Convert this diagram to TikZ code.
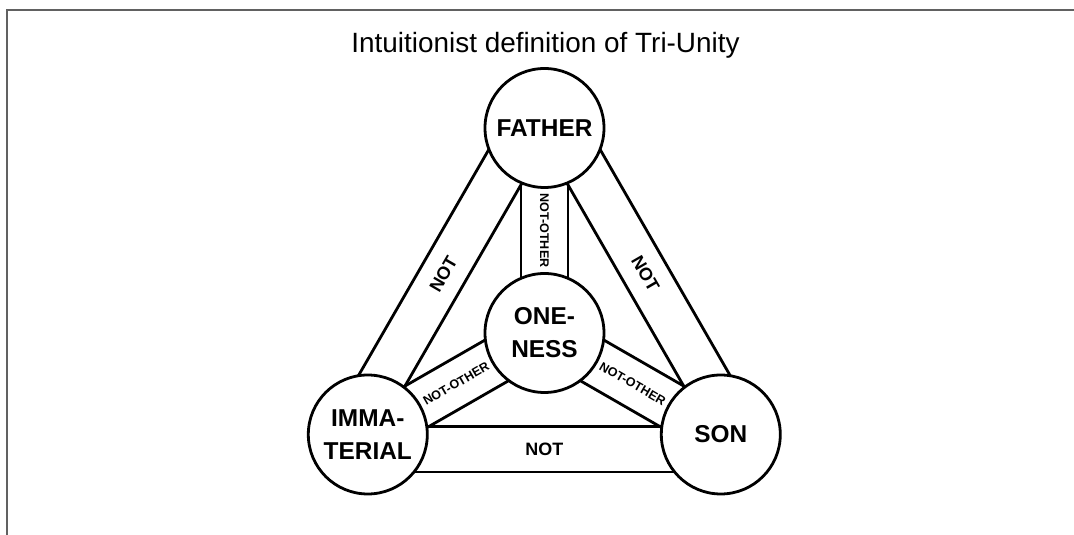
\documentclass[tikz,border=0pt]{standalone}
\usepackage{fontspec}
\setmainfont{Liberation Sans}
\usetikzlibrary{calc,backgrounds}
\begin{document}
\begin{tikzpicture}[x=1bp,y=1bp,
  circ/.style={circle, draw, line width=2.8bp, fill=white, minimum size=119bp, inner sep=0pt, align=center, font=\bfseries\fontsize{24.5}{33}\selectfont},
  band/.style={line width=2.8bp},
  notlbl/.style={font=\bfseries\fontsize{18}{18}\selectfont, inner sep=0pt},
  otherlbl/.style={font=\bfseries\fontsize{12.6}{12.6}\selectfont, inner sep=0pt},
  frameline/.style={line width=2bp, color=black!62}]
\useasboundingbox (0,0) rectangle (1074,535);
\coordinate (fb) at (7,0);
\coordinate (fc) at (7,525);
\coordinate (fr) at (1074,525);
\draw[frameline] (fb) -- (fc) -- (fr);
\node (title) at (545.5,482) [anchor=base, inner sep=0pt, font=\fontsize{28}{28}\selectfont] {Intuitionist definition of Tri-Unity};
\node[circ] (F) at (544.5,407) {FATHER};
\node[circ] (O) at (544.5,202) {ONE-\\NESS};
\node[circ] (I) at (367.8,100.5) {IMMA-\\TERIAL};
\node[circ] (S) at (720.8,100.5) {SON};
\begin{scope}[on background layer]
  \foreach \a/\b in {I/F, F/S, S/I} {
    \draw[band] ($(\a)!-8bp!90:(\b)$) -- ($(\b)!-8bp!-90:(\a)$);
    \draw[band] ($(\a)!37.5bp!90:(\b)$) -- ($(\b)!37.5bp!-90:(\a)$);
  }
  \foreach \b in {F,I,S} {
    \draw[band] ($(O)!23.5bp!90:(\b)$) -- ($(\b)!23.5bp!-90:(O)$);
    \draw[band] ($(O)!-23.5bp!90:(\b)$) -- ($(\b)!-23.5bp!-90:(O)$);
  }
\end{scope}
\node[notlbl, rotate=60] (nIF) at ($($(I)!0.5!(F)$)+(150:14.75)$) {NOT};
\node[notlbl, rotate=-60] (nFS) at ($($(F)!0.5!(S)$)+(30:14.75)$) {NOT};
\node[notlbl] (nSI) at ($($(S)!0.5!(I)$)+(270:14.75)$) {NOT};
\node[otherlbl, rotate=-90] (oF) at ($(O)!0.5!(F)$) {NOT-OTHER};
\node[otherlbl, rotate=30] (oI) at ($(O)!0.5!(I)$) {NOT-OTHER};
\node[otherlbl, rotate=-30] (oS) at ($(O)!0.5!(S)$) {NOT-OTHER};
\end{tikzpicture}
\end{document}
